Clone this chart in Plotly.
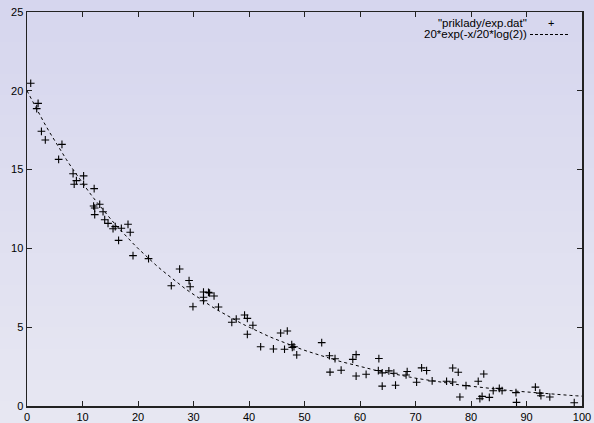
import numpy as np
import plotly.graph_objects as go

# data points ("priklady/exp.dat")
x_data = [0.67, 2.0, 1.75, 2.6, 3.3, 6.3, 5.7, 8.3, 8.5, 8.9, 10.2, 10.2, 12.1, 12.0, 12.2, 12.2,
          13.1, 13.7, 14.0, 14.6, 15.5, 15.9, 17.0, 18.2, 18.6, 16.5, 19.1, 21.9, 26.0, 27.5,
          29.2, 29.4, 29.9, 31.8, 31.8, 31.8, 32.7, 32.9, 33.7, 34.5, 36.9, 37.7, 39.2, 39.7,
          39.7, 40.7, 42.1, 44.4, 45.7, 46.9, 46.4, 47.7, 47.8, 48.1, 48.6, 53.1, 54.5, 55.5,
          54.6, 56.6, 58.7, 59.3, 59.3, 61.1, 63.4, 63.3, 64.0, 64.0, 65.2, 66.1, 66.4, 68.3,
          68.5, 70.2, 71.1, 72.0, 73.0, 75.6, 76.7, 76.7, 77.7, 78.0, 79.1, 81.3, 82.3, 81.6,
          82.0, 83.3, 84.0, 85.1, 85.6, 88.1, 88.2, 91.6, 92.4, 92.6, 94.2, 98.6]
y_data = [20.48, 19.2, 18.87, 17.43, 16.88, 16.6, 15.65, 14.74, 14.07, 14.3, 14.6, 14.07, 13.79,
          12.69, 12.56, 12.14, 12.8, 12.33, 11.82, 11.59, 11.25, 11.38, 11.28, 11.53, 11.02,
          10.51, 9.54, 9.35, 7.63, 8.69, 7.96, 7.57, 6.3, 7.23, 6.9, 6.68, 7.21, 7.17, 6.98,
          6.28, 5.31, 5.52, 5.77, 5.56, 4.55, 5.12, 3.76, 3.62, 4.63, 4.76, 3.6, 3.89, 3.72,
          3.76, 3.24, 4.02, 3.19, 3.0, 2.15, 2.27, 2.96, 3.26, 1.9, 2.01, 3.01, 2.25, 2.1, 1.26,
          2.23, 2.08, 1.32, 1.97, 2.19, 1.51, 2.42, 2.25, 1.59, 1.57, 1.52, 2.41, 2.14, 0.57,
          1.29, 1.57, 2.03, 0.46, 0.61, 0.55, 0.97, 1.12, 0.97, 0.85, 0.23, 1.2, 0.82, 0.65,
          0.57, 0.21]

x_ticks = [0, 10, 20, 30, 40, 50, 60, 70, 80, 90, 100]
y_ticks = [0, 5, 10, 15, 20, 25]

data_label = '"priklady/exp.dat"'
func_label = '20*exp(-x/20*log(2))'

# fitted function shown in the legend, sampled as gnuplot does (100 samples)
x_fun = np.linspace(0, 100, 100)
y_fun = 20 * np.exp(-x_fun / 20 * np.log(2))

W, H = 594, 423
ML, MR, MT, MB = 27, 12, 12, 17
pw, ph = W - ML - MR, H - MT - MB

def px_to_paper_x(px):
    return (px - ML) / pw

def py_to_paper_y(py):
    return 1 - (py - MT) / ph

fig = go.Figure()
fig.add_trace(go.Scatter(x=x_fun, y=y_fun, mode="lines",
                         line=dict(color="black", width=1, dash="3px,3px"),
                         showlegend=False, hoverinfo="skip"))
fig.add_trace(go.Scatter(x=x_data, y=y_data, mode="markers",
                         marker=dict(symbol="cross-thin", size=5.5,
                                     line=dict(color="black", width=1.1)),
                         showlegend=False))

# vertical background gradient
shapes = []
N = 40
top = np.array([0xd6, 0xd6, 0xee])
bot = np.array([0xe8, 0xe8, 0xf3])
y0p = py_to_paper_y(H)
y1p = py_to_paper_y(0)
for i in range(N):
    t = (i + 0.5) / N
    c = top + (bot - top) * t
    ya = y1p - (y1p - y0p) * i / N
    yb = y1p - (y1p - y0p) * (i + 1) / N
    shapes.append(dict(type="rect", xref="paper", yref="paper",
                       x0=px_to_paper_x(0), x1=px_to_paper_x(W), y0=yb, y1=ya + 0.002,
                       fillcolor="rgb(%d,%d,%d)" % tuple(c.astype(int)),
                       line=dict(width=0), layer="below"))

# legend sample line for the function
shapes.append(dict(type="line", xref="paper", yref="paper",
                   x0=px_to_paper_x(530), x1=px_to_paper_x(569),
                   y0=py_to_paper_y(34.5), y1=py_to_paper_y(34.5),
                   line=dict(color="black", width=1, dash="3px,2px")))

font = dict(family="Liberation Sans, Arial, sans-serif", size=11, color="black")
lfont = dict(family="Liberation Sans, Arial, sans-serif", size=11.5, color="black")
annotations = [
    dict(xref="paper", yref="paper", x=px_to_paper_x(528), y=py_to_paper_y(22.5),
         text=data_label, showarrow=False, xanchor="right", yanchor="middle", font=lfont,
         borderpad=0),
    dict(xref="paper", yref="paper", x=px_to_paper_x(551), y=py_to_paper_y(22.5),
         text="+", showarrow=False, xanchor="center", yanchor="middle", font=font,
         borderpad=0),
    dict(xref="paper", yref="paper", x=px_to_paper_x(528), y=py_to_paper_y(34.5),
         text=func_label, showarrow=False, xanchor="right", yanchor="middle", font=lfont,
         borderpad=0),
]

axis_common = dict(showgrid=False, zeroline=False, showline=True, linecolor="#222",
                   linewidth=1.5, mirror="ticks", ticks="inside", ticklen=5,
                   tickcolor="#222", tickwidth=1, tickfont=font, automargin=False)

fig.update_layout(
    width=W, height=H,
    margin=dict(l=ML, r=MR, t=MT, b=MB, pad=0, autoexpand=False),
    paper_bgcolor="rgba(0,0,0,0)",
    plot_bgcolor="rgba(0,0,0,0)",
    shapes=shapes,
    annotations=annotations,
    font=font,
    hovermode=False,
    xaxis=dict(range=[0, 100], tickvals=x_ticks, ticktext=[str(v) for v in x_ticks], **axis_common),
    yaxis=dict(range=[0, 25], tickvals=y_ticks, ticktext=[str(v) for v in y_ticks], **axis_common),
)

fig.write_html("out.html",
               config={"displayModeBar": False, "staticPlot": True},
               post_script="document.body.style.margin='0';document.body.style.background='rgb(230,230,243)';")
